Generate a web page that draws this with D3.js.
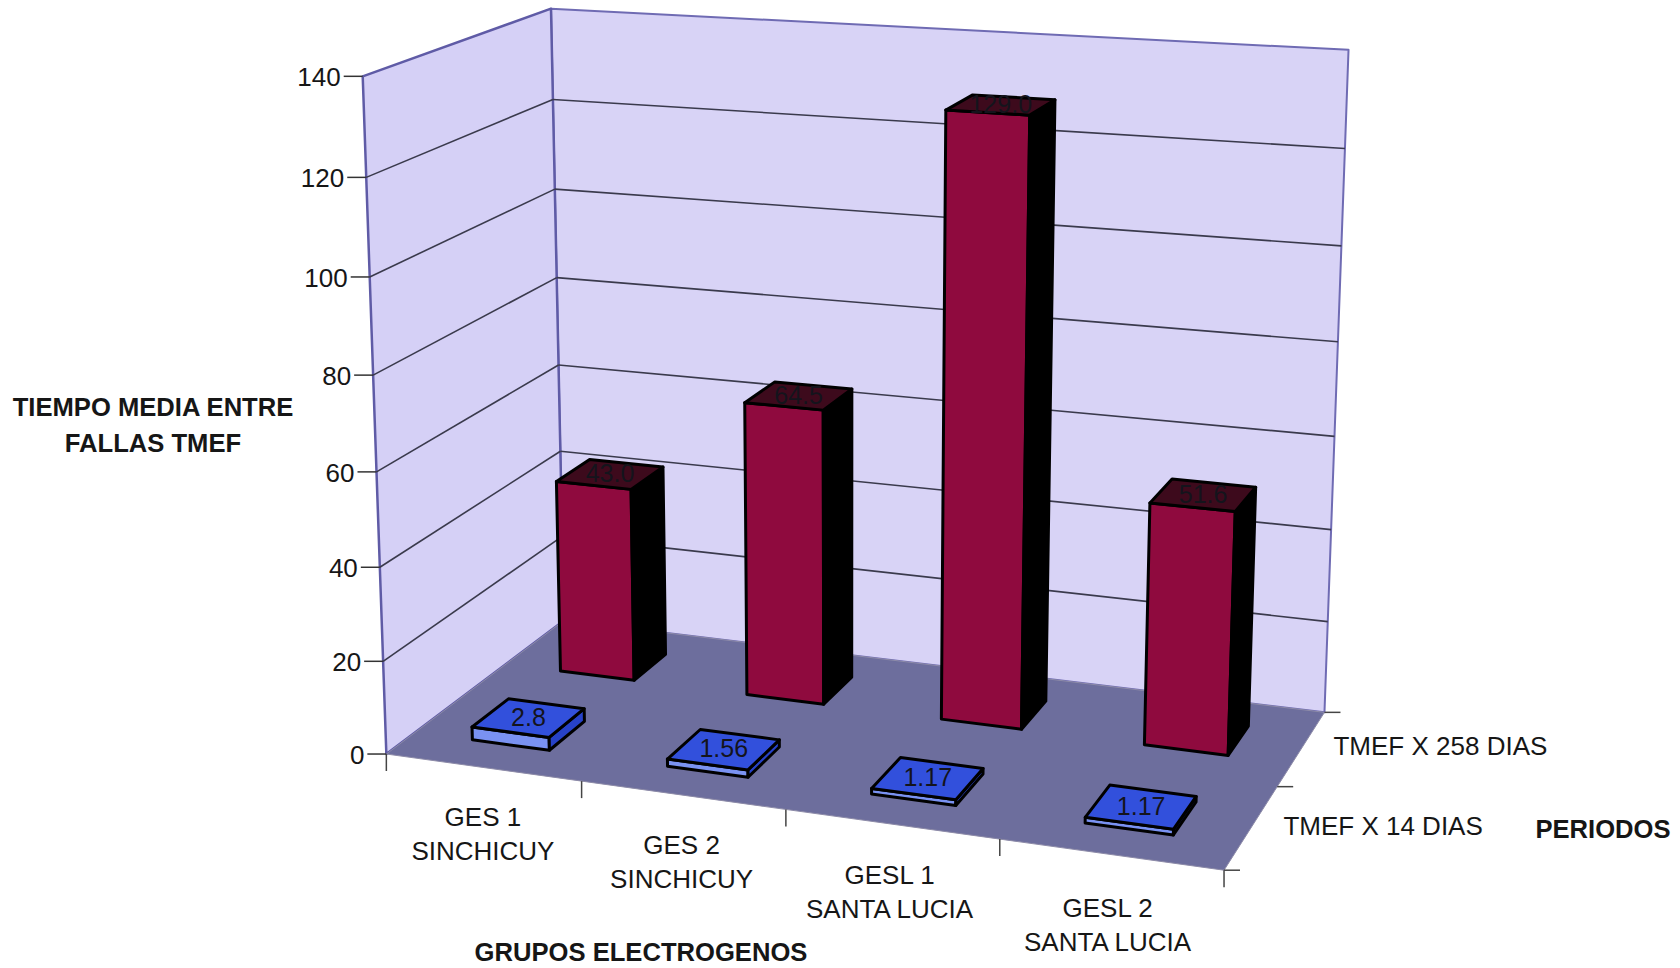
<!DOCTYPE html>
<html lang="es">
<head>
<meta charset="utf-8">
<title>Tiempo media entre fallas</title>
<script src="https://cdnjs.cloudflare.com/ajax/libs/d3/7.8.5/d3.min.js"></script>
<style>
html, body { margin: 0; padding: 0; background: #fff; }
svg { display: block; }
text { font-family: "Liberation Sans", Arial, sans-serif; fill: #161616; }
</style>
</head>
<body>
<script>
var categories = ["GES 1|SINCHICUY", "GES 2|SINCHICUY", "GESL 1|SANTA LUCIA", "GESL 2|SANTA LUCIA"];
var periods = ["TMEF X 14 DIAS", "TMEF X 258 DIAS"];
var tmef14 = [2.8, 1.56, 1.17, 1.17];
var tmef258 = [43.0, 64.5, 129.0, 51.6];
var labels14 = ["2.8", "1.56", "1.17", "1.17"];
var labels258 = ["43.0", "64.5", "129.0", "51.6"];
var valueTicks = [0, 20, 40, 60, 80, 100, 120, 140];

var width = 1680, height = 968;
var svg = d3.select("body").append("svg").attr("width", width).attr("height", height);

// world axes of the box, all 0..1 : x along categories, y up, z going back
var x = d3.scaleBand().domain(d3.range(4)).range([0, 1]).paddingInner(0.6).paddingOuter(0.3);
var z = d3.scaleBand().domain(d3.range(2)).range([0, 1]).paddingInner(0.6).paddingOuter(0.3);
var y = d3.scaleLinear().domain([0, 140]).range([0, 1]);

// camera: box corners and where they land on the page
var corners = [
	[0, 0, 0, 388, 749],
	[0, 1, 0, 361, 77],
	[0, 0, 1, 562, 626],
	[0, 1, 1, 553, 7],
	[1, 0, 1, 1325, 707],
	[1, 1, 1, 1348, 51],
	[1, 0, 0, 1224, 875]
];

function solve(A, b) {
	var n = b.length;
	for (var i = 0; i < n; i++) {
		var p = i;
		for (var r = i + 1; r < n; r++) if (Math.abs(A[r][i]) > Math.abs(A[p][i])) p = r;
		var t = A[i]; A[i] = A[p]; A[p] = t;
		t = b[i]; b[i] = b[p]; b[p] = t;
		for (r = i + 1; r < n; r++) {
			var f = A[r][i] / A[i][i];
			for (var c = i; c < n; c++) A[r][c] -= f * A[i][c];
			b[r] -= f * b[i];
		}
	}
	var out = new Array(n);
	for (i = n - 1; i >= 0; i--) {
		var s = b[i];
		for (c = i + 1; c < n; c++) s -= A[i][c] * out[c];
		out[i] = s / A[i][i];
	}
	return out;
}

// least squares fit of the 3x4 projection (last entry fixed at 1)
function fitCamera(pts) {
	var rows = [], rhs = [];
	pts.forEach(function(d) {
		var u = d[3] / 1000, v = d[4] / 1000;
		rows.push([d[0], d[1], d[2], 1, 0, 0, 0, 0, -u * d[0], -u * d[1], -u * d[2]]); rhs.push(u);
		rows.push([0, 0, 0, 0, d[0], d[1], d[2], 1, -v * d[0], -v * d[1], -v * d[2]]); rhs.push(v);
	});
	var AtA = d3.range(11).map(function(i) {
		return d3.range(11).map(function(j) {
			return d3.sum(rows, function(r) { return r[i] * r[j]; });
		});
	});
	var Atb = d3.range(11).map(function(i) {
		return d3.sum(rows, function(r, k) { return r[i] * rhs[k]; });
	});
	return solve(AtA, Atb);
}

var cam = fitCamera(corners);

function project(px, py, pz) {
	var w = cam[8] * px + cam[9] * py + cam[10] * pz + 1;
	return [
		1000 * (cam[0] * px + cam[1] * py + cam[2] * pz + cam[3]) / w,
		1000 * (cam[4] * px + cam[5] * py + cam[6] * pz + cam[7]) / w
	];
}

var line = d3.line();
function quad(pts, fill, stroke, sw) {
	return svg.append("path")
		.attr("d", line(pts.map(function(p) { return project(p[0], p[1], p[2]); })) + "Z")
		.attr("fill", fill)
		.attr("stroke", stroke || "none")
		.attr("stroke-width", sw || 0)
		.attr("stroke-linejoin", "round");
}

function seg(a, b, color, sw) {
	svg.append("line")
		.attr("x1", a[0]).attr("y1", a[1])
		.attr("x2", b[0]).attr("y2", b[1])
		.attr("stroke", color).attr("stroke-width", sw);
}

// walls and floor
quad([[0, 0, 1], [1, 0, 1], [1, 1, 1], [0, 1, 1]], "#d8d3f6", "#6f6bb3", 2);
quad([[0, 0, 0], [0, 0, 1], [0, 1, 1], [0, 1, 0]], "#d5d0f6", "#5f5ba6", 2.5);
quad([[0, 0, 0], [1, 0, 0], [1, 0, 1], [0, 0, 1]], "#6d6e9d", "#8d8ba8", 1);

// gridlines on both walls, value ticks and their labels
valueTicks.forEach(function(v) {
	var h = y(v);
	if (v > 0 && v < 140) {
		seg(project(0, h, 0), project(0, h, 1), "#3a3a4c", 1.6);
		seg(project(0, h, 1), project(1, h, 1), "#3a3a4c", 1.6);
	}
	var p = project(0, h, 0);
	seg([p[0] - 19, p[1]], p, "#333", 1.5);
	svg.append("text")
		.attr("x", p[0] - 22).attr("y", p[1] + 10)
		.attr("text-anchor", "end")
		.attr("font-size", 26)
		.text(v);
});

function bar(i, j, value, label, colors) {
	var x0 = x(i), x1 = x0 + x.bandwidth();
	var z0 = z(j), z1 = z0 + z.bandwidth();
	var h = y(value);
	quad([[x0, 0, z0], [x1, 0, z0], [x1, h, z0], [x0, h, z0]], colors.front, "#000", 3);
	quad([[x1, 0, z0], [x1, 0, z1], [x1, h, z1], [x1, h, z0]], colors.side, "#000", 3);
	quad([[x0, h, z0], [x1, h, z0], [x1, h, z1], [x0, h, z1]], colors.top, "#000", 3);
	var c = project((x0 + x1) / 2, h, (z0 + z1) / 2);
	svg.append("text")
		.attr("x", c[0]).attr("y", c[1] + 8)
		.attr("text-anchor", "middle")
		.attr("font-size", 25)
		.style("fill", "#14141c")
		.text(label);
}

var red = { front: "#8f0a3e", side: "#000", top: "#3d0a1c" };
var blue = { front: "#7a92f2", side: "#2742c8", top: "#3250dc" };

// back row first so the front row paints over it
tmef258.forEach(function(v, i) { bar(i, 1, v, labels258[i], red); });
tmef14.forEach(function(v, i) { bar(i, 0, v, labels14[i], blue); });

// category ticks and labels along the front edge
d3.range(5).forEach(function(i) {
	var p = project(i / 4, 0, 0);
	seg(p, [p[0], p[1] + 17], "#444", 1.5);
});
categories.forEach(function(c, i) {
	var p = project(x(i) + x.bandwidth() / 2, 0, 0);
	c.split("|").forEach(function(t, k) {
		svg.append("text")
			.attr("x", p[0] - i).attr("y", p[1] + Math.max(59, 54 + 3 * i) + k * 33.5)
			.attr("text-anchor", "middle")
			.attr("font-size", 26)
			.text(t);
	});
});

// period ticks and labels along the right edge
d3.range(3).forEach(function(k) {
	var p = project(1, 0, k / 2);
	seg(p, [p[0] + 16, p[1]], "#444", 1.5);
});
periods.forEach(function(t, j) {
	var p = project(1, 0, z(j) + z.bandwidth() / 2);
	svg.append("text")
		.attr("x", p[0] + 32).attr("y", p[1] + 8 - j)
		.attr("font-size", 26)
		.text(t);
});

// axis titles
var titles = [
	["TIEMPO MEDIA ENTRE", 153, 416],
	["FALLAS TMEF", 153, 452],
	["PERIODOS", 1603, 838],
	["GRUPOS ELECTROGENOS", 641, 961]
];
svg.selectAll("text.title").data(titles).enter().append("text")
	.attr("class", "title")
	.attr("x", function(d) { return d[1]; })
	.attr("y", function(d) { return d[2]; })
	.attr("text-anchor", "middle")
	.attr("font-size", 25.6)
	.attr("font-weight", "bold")
	.text(function(d) { return d[0]; });
</script>
</body>
</html>
